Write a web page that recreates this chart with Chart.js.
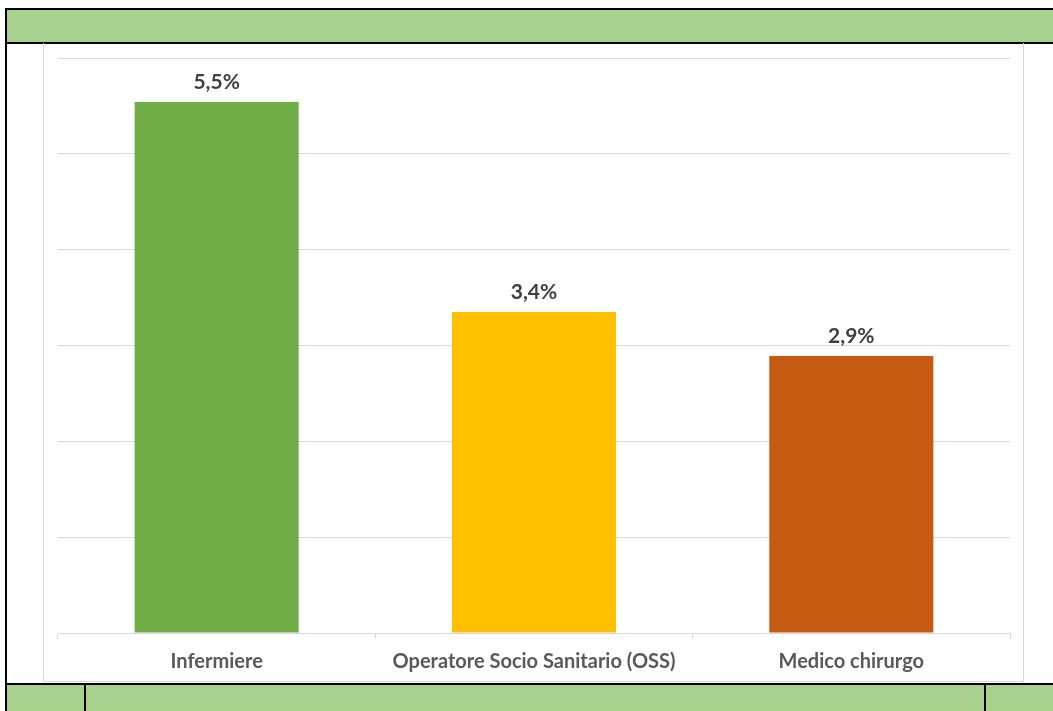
<!DOCTYPE html>
<html>
<head>
<meta charset="utf-8">
<script src="https://cdn.jsdelivr.net/npm/chart.js@4.4.1/dist/chart.umd.min.js"></script>
<style>
  html, body { margin: 0; padding: 0; background: #fff; }
  body { width: 1053px; height: 711px; position: relative; overflow: hidden; }
  .abs { position: absolute; }
  #wrap { position: absolute; left: 44px; top: 44px; width: 980px; height: 638px; }
</style>
</head>
<body>
<!-- table decorations -->
<div class="abs" style="left:5px;top:8px;width:1048px;height:2px;background:#000"></div>
<div class="abs" style="left:7px;top:10px;width:1046px;height:32px;background:#A9D18E"></div>
<div class="abs" style="left:5px;top:42px;width:1048px;height:2px;background:#000"></div>
<div class="abs" style="left:5px;top:8px;width:2px;height:703px;background:#000"></div>
<div class="abs" style="left:43px;top:43px;width:981px;height:639px;border:1px solid #d9d9d9;box-sizing:border-box;border-top:none"></div>
<div class="abs" style="left:5px;top:683px;width:1048px;height:2px;background:#000"></div>
<div class="abs" style="left:7px;top:685px;width:1046px;height:26px;background:#A9D18E"></div>
<div class="abs" style="left:84px;top:683px;width:2px;height:28px;background:#000"></div>
<div class="abs" style="left:984px;top:683px;width:2px;height:28px;background:#000"></div>

<div id="wrap"><canvas id="c"></canvas></div>
<script>
const categories = ["Infermiere", "Operatore Socio Sanitario (OSS)", "Medico chirurgo"];
const values = [5.54, 3.35, 2.89];
const valueLabels = ["5,5%", "3,4%", "2,9%"];
const barColors = ["#70AD47", "#FFC000", "#C55A11"];

const dataLabelPlugin = {
  id: 'dataLabels',
  afterDatasetsDraw(chart) {
    const ctx = chart.ctx;
    const meta = chart.getDatasetMeta(0);
    ctx.save();
    ctx.font = 'bold 21px Lato, "Open Sans", sans-serif';
    ctx.fillStyle = '#404040';
    ctx.textAlign = 'center';
    ctx.textBaseline = 'bottom';
    meta.data.forEach((bar, i) => {
      ctx.fillText(valueLabels[i], bar.x, bar.y - 9);
    });
    ctx.restore();
  }
};

new Chart(document.getElementById('c'), {
  type: 'bar',
  data: {
    labels: categories,
    datasets: [{
      data: values,
      backgroundColor: barColors,
      borderWidth: 0,
      categoryPercentage: 1.0,
      barPercentage: 0.517
    }]
  },
  options: {
    responsive: true,
    maintainAspectRatio: false,
    animation: false,
    devicePixelRatio: 1,
    layout: { padding: { left: 14, right: 14, top: 14, bottom: 0 } },
    plugins: { legend: { display: false }, tooltip: { enabled: false }, title: { display: false } },
    scales: {
      x: {
        offset: true,
        grid: { display: true, drawOnChartArea: false, drawTicks: true, tickLength: 6, color: '#d9d9d9', offset: true },
        border: { display: true, color: '#d9d9d9', width: 1 },
        ticks: { color: '#595959', font: { family: 'Lato, "Open Sans", sans-serif', size: 20, weight: 'bold' }, padding: 11, maxRotation: 0 },
        afterFit(scale) { scale.height = 49; }
      },
      y: {
        min: 0, max: 6,
        ticks: { display: false, stepSize: 1 },
        grid: { color: '#d9d9d9', drawTicks: false, lineWidth: 1 },
        border: { display: false },
        afterFit(scale) { scale.width = 0; }
      }
    }
  },
  plugins: [dataLabelPlugin]
});
</script>
</body>
</html>
